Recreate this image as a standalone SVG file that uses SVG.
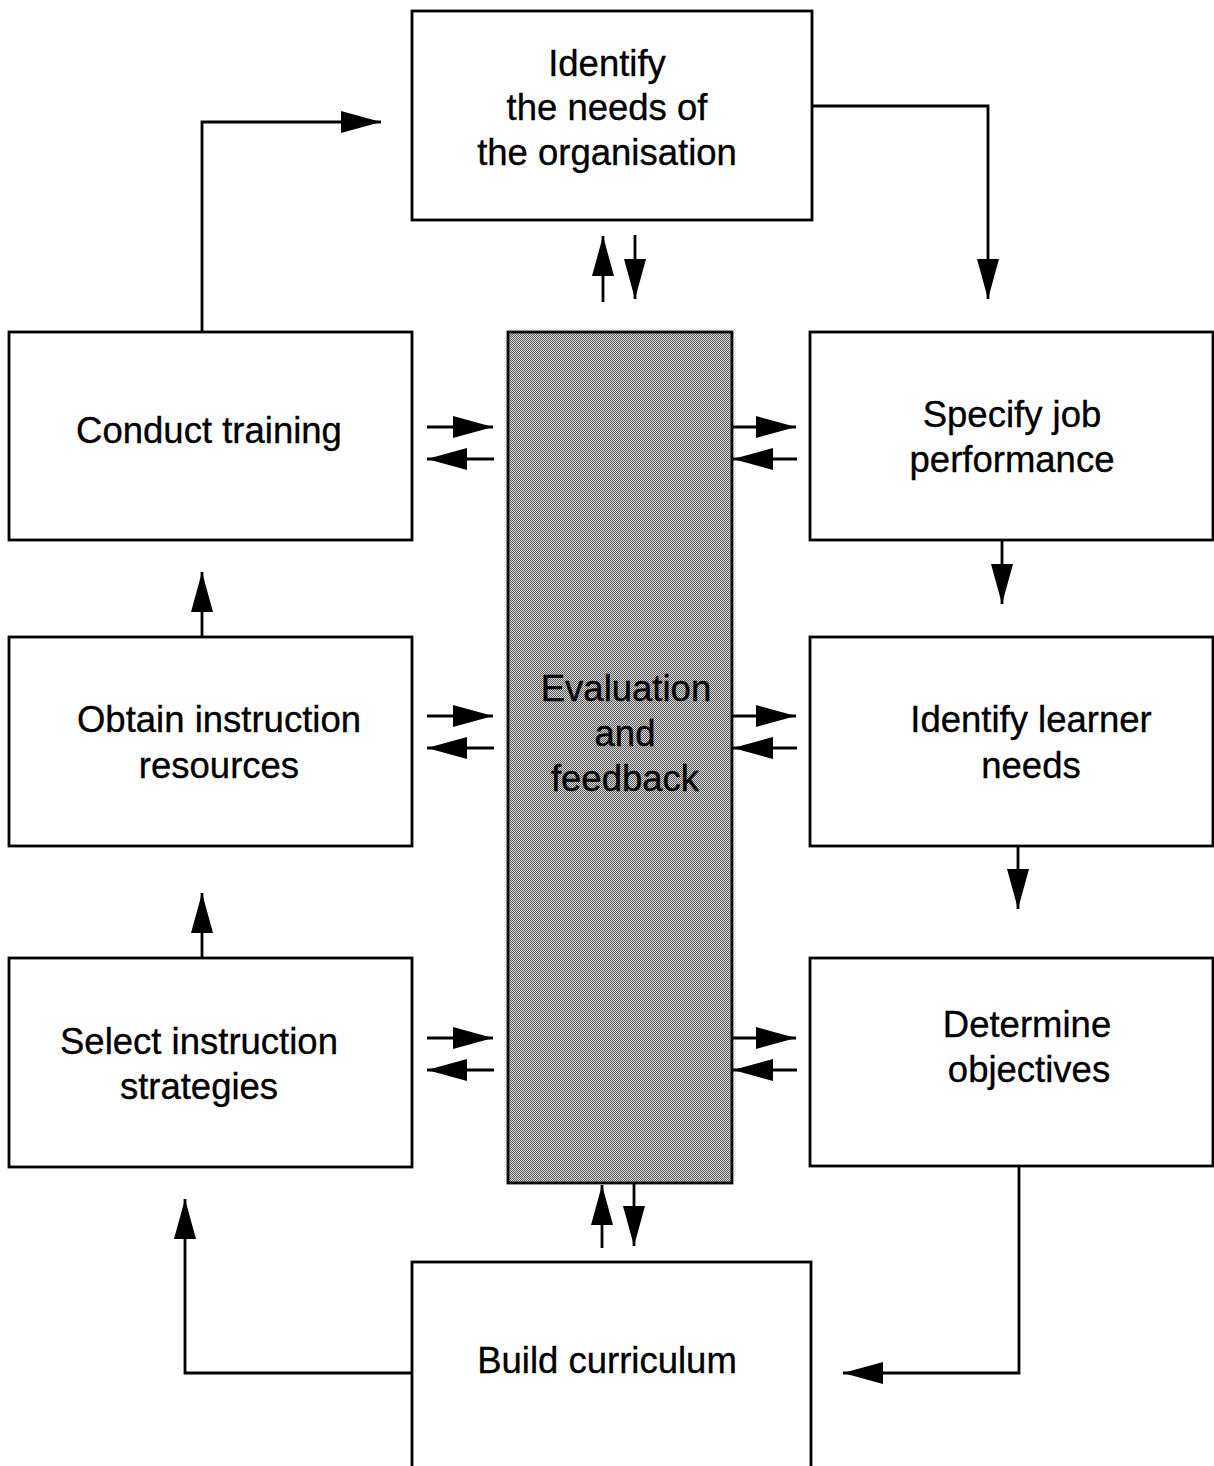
<svg xmlns="http://www.w3.org/2000/svg" width="1214" height="1466" viewBox="0 0 1214 1466">
  <defs>
    <!-- fine checker halftone for the shaded column -->
    <pattern id="halftone" width="2" height="2" patternUnits="userSpaceOnUse">
      <rect width="2" height="2" fill="#d6d6d6"/>
      <rect x="0" y="0" width="1" height="1" fill="#5e5e5e"/>
      <rect x="1" y="1" width="1" height="1" fill="#5e5e5e"/>
    </pattern>
    <marker id="head" viewBox="0 0 40 22" refX="40" refY="11" markerWidth="40" markerHeight="22" markerUnits="userSpaceOnUse" orient="auto">
      <path d="M0,0 L40,11 L0,22 Z" fill="#000"/>
    </marker>
  </defs>
  <style>
    .box { fill: #fff; stroke: #000; stroke-width: 2.8; }
    .eval { fill: url(#halftone); stroke: #000; stroke-width: 2.8; }
    .lbl { font-family: "Liberation Sans", Arial, sans-serif; font-size: 36.5px; fill: #000; stroke: #000; stroke-width: 0.35; text-anchor: middle; }
    .con { fill: none; stroke: #000; stroke-width: 2.8; marker-end: url(#head); }
  </style>
  <rect width="1214" height="1466" fill="#fff"/>

  <g id="identify-org">
    <rect class="box" x="412" y="11" width="400" height="209"/>
    <text class="lbl" x="607" y="76">Identify</text>
    <text class="lbl" x="607" y="120">the needs of</text>
    <text class="lbl" x="607" y="165">the organisation</text>
  </g>

  <g id="conduct-training">
    <rect class="box" x="9" y="332" width="403" height="208"/>
    <text class="lbl" x="209" y="443">Conduct training</text>
  </g>

  <g id="obtain-resources">
    <rect class="box" x="9" y="637" width="403" height="209"/>
    <text class="lbl" x="219" y="732">Obtain instruction</text>
    <text class="lbl" x="219" y="778">resources</text>
  </g>

  <g id="select-strategies">
    <rect class="box" x="9" y="958" width="403" height="209"/>
    <text class="lbl" x="199" y="1054">Select instruction</text>
    <text class="lbl" x="199" y="1099">strategies</text>
  </g>

  <g id="specify-performance">
    <rect class="box" x="810" y="332" width="403" height="208"/>
    <text class="lbl" x="1012" y="427">Specify job</text>
    <text class="lbl" x="1012" y="472">performance</text>
  </g>

  <g id="learner-needs">
    <rect class="box" x="810" y="637" width="403" height="209"/>
    <text class="lbl" x="1031" y="732">Identify learner</text>
    <text class="lbl" x="1031" y="778">needs</text>
  </g>

  <g id="determine-objectives">
    <rect class="box" x="810" y="958" width="403" height="208"/>
    <text class="lbl" x="1027" y="1037">Determine</text>
    <text class="lbl" x="1029" y="1082">objectives</text>
  </g>

  <g id="build-curriculum">
    <rect class="box" x="412" y="1262" width="399" height="230"/>
    <text class="lbl" x="607" y="1373">Build curriculum</text>
  </g>

  <g id="evaluation-feedback">
    <rect class="eval" x="508" y="332" width="224" height="851"/>
    <text class="lbl" x="626" y="701">Evaluation</text>
    <text class="lbl" x="625" y="746">and</text>
    <text class="lbl" x="625" y="791">feedback</text>
  </g>

  <g id="connectors">
    <!-- main cycle -->
    <path class="con" d="M202,332 V122 H381"/>
    <path class="con" d="M812,106 H988 V299"/>
    <path class="con" d="M1002,540 V604"/>
    <path class="con" d="M1018,846 V909"/>
    <path class="con" d="M1019,1166 V1373 H843"/>
    <path class="con" d="M412,1373 H185 V1199"/>
    <path class="con" d="M202,958 V893"/>
    <path class="con" d="M202,637 V572"/>

    <!-- exchanges with evaluation and feedback -->
    <path class="con" d="M603,302 V236"/>
    <path class="con" d="M635,235 V299"/>
    <path class="con" d="M602,1248 V1185"/>
    <path class="con" d="M634,1183 V1246"/>

    <path class="con" d="M427,427 H493"/>
    <path class="con" d="M494,459 H427"/>
    <path class="con" d="M427,716 H493"/>
    <path class="con" d="M494,748 H427"/>
    <path class="con" d="M427,1038 H493"/>
    <path class="con" d="M494,1070 H427"/>

    <path class="con" d="M733,427 H796"/>
    <path class="con" d="M797,459 H733"/>
    <path class="con" d="M733,716 H796"/>
    <path class="con" d="M797,748 H733"/>
    <path class="con" d="M733,1038 H796"/>
    <path class="con" d="M797,1070 H733"/>
  </g>
</svg>
